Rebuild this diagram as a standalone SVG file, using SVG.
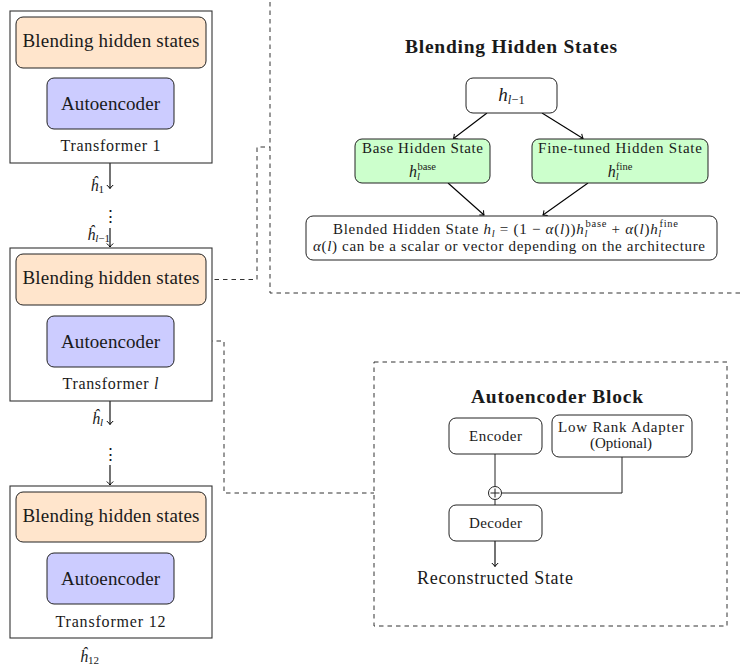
<svg xmlns="http://www.w3.org/2000/svg" width="740" height="672" viewBox="0 0 740 672">
<defs>
<marker id="tip" markerUnits="userSpaceOnUse" markerWidth="10" markerHeight="10" refX="0" refY="0" viewBox="-5 -5 10 10" orient="auto" overflow="visible">
<path d="M-3.5,-3.2 Q-1.2,-0.8 0,0 Q-1.2,0.8 -3.5,3.2" fill="none" stroke="#000" stroke-width="1"/>
</marker>
</defs>
<style>
text{font-family:"Liberation Serif","Times New Roman",serif;fill:#1a1a1a}
.outer{fill:#fff;stroke:#333;stroke-width:1.1}
.blend{fill:#FFE5CC;stroke:#222;stroke-width:1}
.ae{fill:#CCCCFF;stroke:#222;stroke-width:1}
.green{fill:#CCFFCC;stroke:#222;stroke-width:1}
.plain{fill:#fff;stroke:#222;stroke-width:1}
.big{font-size:19px}
.tname{font-size:16px}
.mid{font-size:15px}
.math{font-size:16px}
.small{font-size:15px}
.bold{font-weight:bold;font-size:19.5px}
.arr{stroke:#000;stroke-width:1.1;fill:none;marker-end:url(#tip)}
.line{stroke:#222;stroke-width:1;fill:none}
.dash{stroke:#333;stroke-width:1;fill:none;stroke-dasharray:4.5,4}
.it{font-style:italic}
</style>

<g id="connectors">
<path class="arr" d="M110,68 V77"/>
<path class="arr" d="M110,163 V188.5"/>
<path class="arr" d="M110,228 V247"/>
<path class="arr" d="M110,305 V315"/>
<path class="arr" d="M110,401 V424.5"/>
<path class="arr" d="M110,465 V485"/>
<path class="arr" d="M110,542 V552"/>
<path class="dash" d="M206,279.5 H257 V147 H270"/>
<path class="dash" d="M174,341 H224 V493 H374"/>
<path class="arr" d="M487,113 L453.5,138.5"/>
<path class="arr" d="M542,113 L583,138.5"/>
<path class="arr" d="M448,183 L484,215"/>
<path class="arr" d="M588,183 L543,215"/>
<path class="line" d="M495,454 V486.5"/>
<path class="line" d="M501.5,493 H622 V457"/>
<path class="line" d="M495,499.5 V505"/>
<path class="arr" d="M495,541 V566.5"/>
</g>

<g id="transformer1">
<rect class="outer" x="10" y="11" width="202" height="152"/>
<g id="blend1"><rect class="blend" x="16" y="17" width="190" height="51" rx="7"/>
<text class="big" x="111" y="47" text-anchor="middle" textLength="177" lengthAdjust="spacing">Blending hidden states</text></g>
<g id="ae1"><rect class="ae" x="47" y="78" width="127" height="51" rx="7"/>
<text class="big" x="110.5" y="110" text-anchor="middle" textLength="99" lengthAdjust="spacing">Autoencoder</text></g>
<text class="tname" x="110.5" y="151" text-anchor="middle" textLength="100" lengthAdjust="spacing">Transformer 1</text>
</g>

<g id="transformerL">
<rect class="outer" x="10" y="248" width="202" height="153"/>
<g id="blendL"><rect class="blend" x="16" y="254" width="190" height="51" rx="7"/>
<text class="big" x="111" y="284" text-anchor="middle" textLength="177" lengthAdjust="spacing">Blending hidden states</text></g>
<g id="aeL"><rect class="ae" x="47" y="316" width="127" height="51" rx="7"/>
<text class="big" x="110.5" y="348" text-anchor="middle" textLength="99" lengthAdjust="spacing">Autoencoder</text></g>
<text class="tname" x="110.5" y="389" text-anchor="middle" textLength="96" lengthAdjust="spacing">Transformer <tspan class="it">l</tspan></text>
</g>

<g id="transformer12">
<rect class="outer" x="10" y="486" width="202" height="152"/>
<g id="blend12"><rect class="blend" x="16" y="492" width="190" height="50" rx="7"/>
<text class="big" x="111" y="522" text-anchor="middle" textLength="177" lengthAdjust="spacing">Blending hidden states</text></g>
<g id="ae12"><rect class="ae" x="47" y="553" width="127" height="51" rx="7"/>
<text class="big" x="110.5" y="585" text-anchor="middle" textLength="99" lengthAdjust="spacing">Autoencoder</text></g>
<text class="tname" x="110.5" y="627" text-anchor="middle" textLength="110" lengthAdjust="spacing">Transformer 12</text>
</g>

<g id="labels">
<text class="math" x="104" y="191" text-anchor="end"><tspan class="it">ĥ</tspan><tspan font-size="11" dy="2">1</tspan></text>
<text x="110" y="222" text-anchor="middle" style="font-family:'DejaVu Serif',serif;font-size:17px">⋮</text>
<text class="math" x="110" y="240" text-anchor="end"><tspan class="it">ĥ</tspan><tspan font-size="11" dy="2" class="it">l</tspan><tspan font-size="11">−1</tspan></text>
<text class="math" x="103" y="424" text-anchor="end"><tspan class="it">ĥ</tspan><tspan font-size="11" dy="2" class="it">l</tspan></text>
<text x="110" y="460" text-anchor="middle" style="font-family:'DejaVu Serif',serif;font-size:17px">⋮</text>
<text class="math" x="99" y="662" text-anchor="end"><tspan class="it">ĥ</tspan><tspan font-size="11" dy="2">12</tspan></text>
</g>

<g id="blending-panel">
<rect class="dash" x="270" y="-10" width="500" height="303"/>
<text class="bold" x="511" y="53" text-anchor="middle" textLength="212" lengthAdjust="spacing">Blending Hidden States</text>
<g id="hprev"><rect class="plain" x="466" y="78" width="91" height="35" rx="7"/>
<text class="big" x="511.5" y="101" text-anchor="middle"><tspan class="it">h</tspan><tspan font-size="12.5" dy="3" class="it">l</tspan><tspan font-size="12.5">−1</tspan></text></g>
<g id="base"><rect class="green" x="355" y="139" width="135" height="44" rx="7"/>
<text class="mid" x="422.5" y="153" text-anchor="middle" textLength="121" lengthAdjust="spacing">Base Hidden State</text>
<text class="math" x="422.5" y="177" text-anchor="middle"><tspan class="it">h</tspan><tspan font-size="10.5" dy="3" class="it">l</tspan><tspan font-size="10.5" dy="-10" dx="-2.5">base</tspan></text></g>
<g id="fine"><rect class="green" x="532" y="139" width="176" height="44" rx="7"/>
<text class="mid" x="620" y="153" text-anchor="middle" textLength="164" lengthAdjust="spacing">Fine-tuned Hidden State</text>
<text class="math" x="620" y="177" text-anchor="middle"><tspan class="it">h</tspan><tspan font-size="10.5" dy="3" class="it">l</tspan><tspan font-size="10.5" dy="-10" dx="-2.5">fine</tspan></text></g>
<g id="blended"><rect class="plain" x="306" y="216" width="411" height="44" rx="7"/>
<text class="mid" x="505.5" y="234" text-anchor="middle" textLength="345" lengthAdjust="spacing">Blended Hidden State <tspan class="it">h</tspan><tspan font-size="10.5" dy="3" class="it">l</tspan><tspan dy="-3"> = (1 − </tspan><tspan class="it">α</tspan>(<tspan class="it">l</tspan>))<tspan class="it">h</tspan><tspan font-size="10.5" dy="3" class="it">l</tspan><tspan font-size="10.5" dy="-10" dx="-2.5">base</tspan><tspan dy="7"> + </tspan><tspan class="it">α</tspan>(<tspan class="it">l</tspan>)<tspan class="it">h</tspan><tspan font-size="10.5" dy="3" class="it">l</tspan><tspan font-size="10.5" dy="-10" dx="-2.5">fine</tspan></text>
<text class="mid" x="509" y="251" text-anchor="middle" textLength="392" lengthAdjust="spacing"><tspan class="it">α</tspan>(<tspan class="it">l</tspan>) can be a scalar or vector depending on the architecture</text></g>
</g>

<g id="autoencoder-panel">
<rect class="dash" x="374" y="362" width="353" height="264"/>
<text class="bold" x="557" y="403" text-anchor="middle" textLength="172" lengthAdjust="spacing">Autoencoder Block</text>
<g id="encoder"><rect class="plain" x="449" y="418" width="93" height="36" rx="7"/>
<text class="small" x="495.5" y="441" text-anchor="middle" textLength="53" lengthAdjust="spacing">Encoder</text></g>
<g id="lra"><rect class="plain" x="552" y="415" width="140" height="42" rx="7"/>
<text class="small" x="621" y="432" text-anchor="middle" textLength="126" lengthAdjust="spacing">Low Rank Adapter</text>
<text class="small" x="621" y="448" text-anchor="middle" textLength="62" lengthAdjust="spacing">(Optional)</text></g>
<g id="sum"><circle cx="495" cy="493" r="6.5" fill="#fff" stroke="#222" stroke-width="1"/>
<path class="line" d="M490.5,493 H499.5 M495,488.5 V497.5"/></g>
<g id="decoder"><rect class="plain" x="449" y="505" width="93" height="36" rx="7"/>
<text class="small" x="495.5" y="528" text-anchor="middle" textLength="53" lengthAdjust="spacing">Decoder</text></g>
<text x="495" y="584" text-anchor="middle" textLength="156" lengthAdjust="spacing" style="font-size:18px">Reconstructed State</text>
</g>
</svg>
